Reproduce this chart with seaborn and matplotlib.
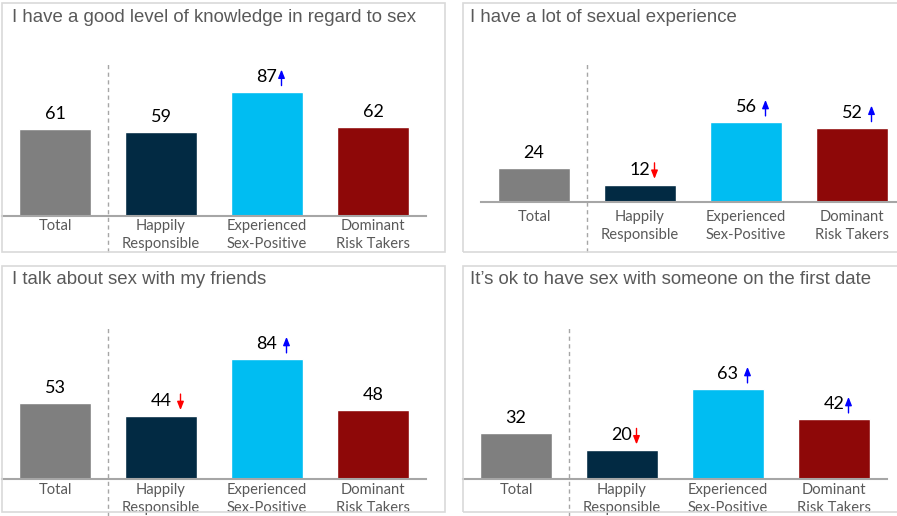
import matplotlib
matplotlib.use("Agg")
import matplotlib.pyplot as plt
from matplotlib.patches import Rectangle
from matplotlib.transforms import offset_copy
import seaborn as sns
import pandas as pd

# ---- data -------------------------------------------------------------
groups = ["Total", "Happily\nResponsible", "Experienced\nSex-Positive", "Dominant\nRisk Takers"]

titles = [
    "I have a good level of knowledge in regard to sex",
    "I have a lot of sexual experience",
    "I talk about sex with my friends",
    "It\u2019s ok to have sex with someone on the first date",
]

knowledge = [61, 59, 87, 62]
experience = [24, 12, 56, 52]
talk_friends = [53, 44, 84, 48]
first_date = [32, 20, 63, 42]

# significance markers shown next to the values ("" = none)
knowledge_sig = ["", "", "\u2191", ""]
experience_sig = ["", "\u2193", " \u2191", " \u2191"]
talk_friends_sig = ["", " \u2193", " \u2191", ""]
first_date_sig = ["", "\u2193", " \u2191", "\u2191"]

# ---- styling ----------------------------------------------------------
bar_colors = ["#7F7F7F", "#022A43", "#00BDF2", "#8E0808"]
up_color, down_color = "#0000FF", "#FF0000"
grey_text = "#595959"
line_grey = "#A6A6A6"
frame_grey = "#D9D9D9"

W, H, DPI = 897, 516, 100
PX_PER_UNIT = 1.43
YMAX = 100

sns.set_theme(style="white")
plt.rcParams["font.family"] = ["Lato", "DejaVu Sans"]

fig = plt.figure(figsize=(W / DPI, H / DPI), dpi=DPI)

# panel layout in pixels (from top-left of the canvas)
panels = [
    dict(values=knowledge, sig=knowledge_sig, title=titles[0],
         frame=(1.5, 2.5, 445, 251.5), title_xy=(12, 17),
         x0=2, x1=426, base=216, dash=(64, 252), pad=2.2),
    dict(values=experience, sig=experience_sig, title=titles[1],
         frame=(463, 2.5, 905, 251.5), title_xy=(470, 17),
         x0=481, x1=905, base=202, dash=(64, 252), pad=5.5),
    dict(values=talk_friends, sig=talk_friends_sig, title=titles[2],
         frame=(1.5, 265.5, 445, 512), title_xy=(12, 279),
         x0=2, x1=426, base=479, dash=(326, 516), pad=2.8),
    dict(values=first_date, sig=first_date_sig, title=titles[3],
         frame=(463, 265.5, 905, 512), title_xy=(470, 279),
         x0=463, x1=887, base=479, dash=(327, 516), pad=2.8),
]

for p in panels:
    # panel frame
    fx0, fy0, fx1, fy1 = p["frame"]
    fig.add_artist(Rectangle((fx0 / W, 1 - fy1 / H), (fx1 - fx0) / W, (fy1 - fy0) / H,
                             transform=fig.transFigure, fill=False,
                             edgecolor=frame_grey, linewidth=1.2))
    # title
    tx, ty = p["title_xy"]
    fig.text(tx / W, 1 - ty / H, p["title"], ha="left", va="center",
             fontsize=13.4, color=grey_text, family=["Liberation Sans", "DejaVu Sans"])

    h_px = YMAX * PX_PER_UNIT
    ax = fig.add_axes([p["x0"] / W, 1 - p["base"] / H, (p["x1"] - p["x0"]) / W, h_px / H])
    ax.patch.set_alpha(0)

    df = pd.DataFrame({"group": groups, "value": p["values"]})
    sns.barplot(data=df, x="group", y="value", hue="group", palette=bar_colors,
                width=0.67, saturation=1, legend=False, ax=ax)

    ax.set_xlim(-0.5, 3.5)
    ax.set_ylim(0, YMAX)
    ax.set_xlabel("")
    ax.set_ylabel("")
    ax.set_yticks([])
    for side in ("top", "left", "right"):
        ax.spines[side].set_visible(False)
    ax.spines["bottom"].set_color(line_grey)
    ax.spines["bottom"].set_linewidth(1.5)
    ax.tick_params(axis="x", length=0, pad=p["pad"], labelsize=10.6, labelcolor=grey_text)
    for lbl in ax.get_xticklabels():
        lbl.set_linespacing(1.38)

    # dashed divider between Total and the segments
    d_top, d_bot = p["dash"]
    ax.axvline(0.5, ymin=(p["base"] - d_bot) / h_px, ymax=(p["base"] - d_top) / h_px,
               clip_on=False, color=line_grey, linewidth=1, linestyle=(0, (3, 2.5)))

    # value labels and significance arrows
    for i, (v, s) in enumerate(zip(p["values"], p["sig"])):
        ax.annotate(str(v), (i, v), xytext=(0, 10), textcoords="offset pixels",
                    ha="center", va="baseline", fontsize=13, color="black")
        if not s:
            continue
        dx = 14.5 + (5 if s.startswith(" ") else 0)
        up = s.strip() == "\u2191"
        col = up_color if up else down_color
        tip_y, tail_y = (22, 6) if up else (6, 22)
        tip = offset_copy(ax.transData, fig=fig, x=dx, y=tip_y, units="dots")
        tail = offset_copy(ax.transData, fig=fig, x=dx, y=tail_y, units="dots")
        ax.annotate("", xy=(i, v), xycoords=tip, xytext=(i, v), textcoords=tail,
                    arrowprops=dict(arrowstyle="-|>,head_length=0.55,head_width=0.22",
                                    color=col, lw=1.0, shrinkA=0, shrinkB=0,
                                    mutation_scale=9),
                    annotation_clip=False)

fig.savefig("out.png", dpi=DPI, facecolor="white")
